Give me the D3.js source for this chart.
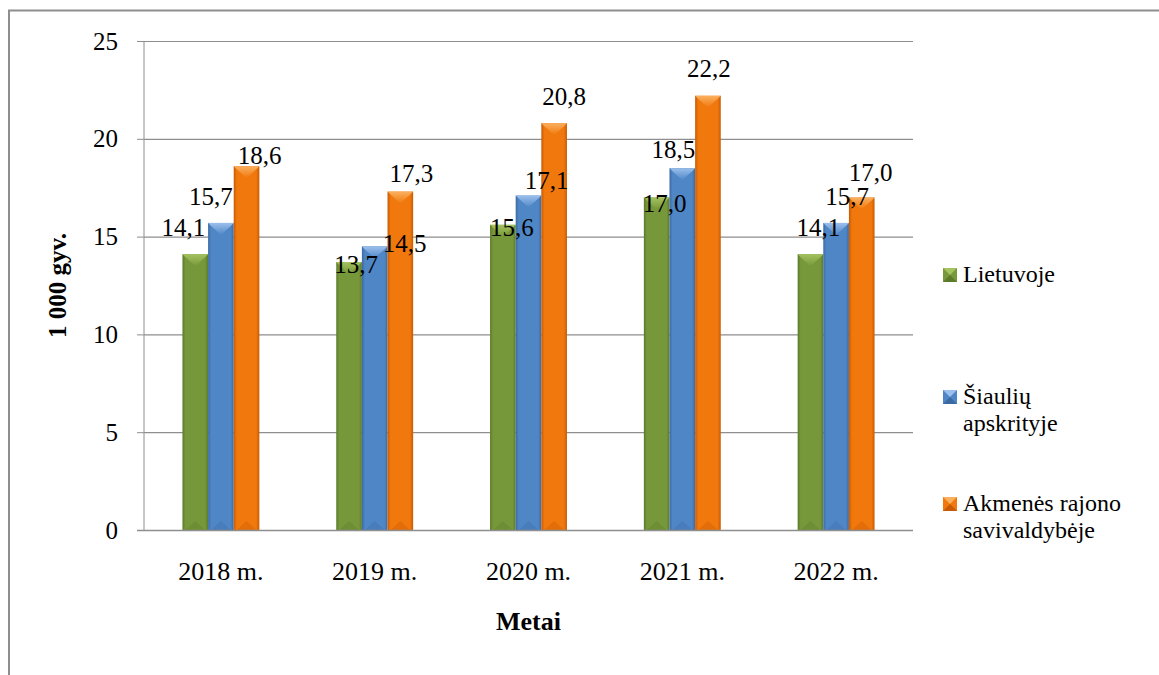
<!DOCTYPE html>
<meta charset="utf-8">
<script src="https://d3js.org/d3.v7.min.js"></script>
<style>
  body { margin: 0; background: #fff; }
  svg text { font-family: "Liberation Serif", "Times New Roman", Times, "DejaVu Serif", serif; fill: #000; }
</style>
<div id="chart"></div>
<script>

// data
var years = ["2018 m.", "2019 m.", "2020 m.", "2021 m.", "2022 m."];
var series = ["Lietuvoje", "Šiaulių apskrityje", "Akmenės rajono savivaldybėje"];
var lietuvoje = [14.1, 13.7, 15.6, 17.0, 14.1];
var siauliai  = [15.7, 14.5, 17.1, 18.5, 15.7];
var akmene    = [18.6, 17.3, 20.8, 22.2, 17.0];
var yTicks = [0, 5, 10, 15, 20, 25];

// label nudges (the labels in the original were moved by hand)
var labelDx = [[-12, 7, 9, 8, 8], [-10, 30, 18, -9, 11], [13, 11, 10, 1, 9]];
var labelDy = [[-18, 11, 11, 15, -18], [-18, 6, -7, -10, -18], [-2, -10, -18, -19, -16]];

var values = [lietuvoje, siauliai, akmene];
var colors = [
  {dark: "#5b7a2a", mid: "#77983a", light: "#a4c25e"},
  {dark: "#3b6aa3", mid: "#4f86c6", light: "#9cc0ec"},
  {dark: "#c85a05", mid: "#f0780c", light: "#fbb060"}
];

var W = 1159, H = 675;
var plotL = 144, plotR = 913, plotT = 41, plotB = 530;

var svg = d3.select("#chart").append("svg")
    .attr("width", W).attr("height", H);

var defs = svg.append("defs");
colors.forEach(function(c, i) {
  var g = defs.append("linearGradient").attr("id", "side" + i)
      .attr("x1", "0").attr("x2", "1").attr("y1", "0").attr("y2", "0");
  g.append("stop").attr("offset", "0").attr("stop-color", c.dark);
  g.append("stop").attr("offset", "0.12").attr("stop-color", c.mid);
  g.append("stop").attr("offset", "0.88").attr("stop-color", c.mid);
  g.append("stop").attr("offset", "1").attr("stop-color", c.dark);
  var t = defs.append("linearGradient").attr("id", "cap" + i)
      .attr("x1", "0").attr("x2", "0").attr("y1", "0").attr("y2", "1");
  t.append("stop").attr("offset", "0").attr("stop-color", c.light);
  t.append("stop").attr("offset", "1").attr("stop-color", c.mid);
});

// outer frame (only left and top visible)
svg.append("path")
    .attr("d", "M9," + H + " L9,10.5 L" + W + ",10.5")
    .attr("fill", "none").attr("stroke", "#8e8e8e").attr("stroke-width", 2);

var x0 = d3.scaleBand().domain(years).range([plotL, plotR])
    .paddingInner(0.5).paddingOuter(0.25);
var x1 = d3.scaleBand().domain(d3.range(series.length)).range([0, x0.bandwidth()]);
var y = d3.scaleLinear().domain([0, 25]).range([plotB, plotT]);

// grid
svg.append("g").selectAll("line").data(yTicks).enter().append("line")
    .attr("x1", plotL).attr("x2", plotR)
    .attr("y1", function(d) { return y(d) + 0.5; })
    .attr("y2", function(d) { return y(d) + 0.5; })
    .attr("stroke", "#8e8e8e").attr("stroke-width", 1.2);

// y axis
var yAxis = svg.append("g").attr("transform", "translate(" + plotL + ",0)")
    .call(d3.axisLeft(y).tickValues(yTicks).tickSize(7).tickPadding(19));
yAxis.attr("font-family", null);
yAxis.select(".domain").attr("stroke", "#8e8e8e").attr("d", "M0," + plotT + "V" + plotB);
yAxis.selectAll(".tick line").attr("stroke", "#8e8e8e");
yAxis.selectAll(".tick text").attr("font-size", "25px").attr("fill", "#000");

// bars
var barLayer = svg.append("g");
var labelLayer = svg.append("g");

years.forEach(function(yr, j) {
  series.forEach(function(s, i) {
    var v = values[i][j];
    var bx = x0(yr) + x1(i), bw = x1.bandwidth(), by = y(v), bh = y(0) - y(v);
    barLayer.append("rect").attr("x", bx).attr("y", by).attr("width", bw).attr("height", bh)
        .attr("fill", "url(#side" + i + ")");
    // bevel cap on top
    barLayer.append("path")
        .attr("d", "M" + bx + "," + by + " L" + (bx + bw) + "," + by +
                   " L" + (bx + bw - 3) + "," + (by + 3) + " L" + (bx + bw / 2) + "," + (by + 12) +
                   " L" + (bx + 3) + "," + (by + 3) + "Z")
        .attr("fill", "url(#cap" + i + ")");
    // soft bottom bevel
    barLayer.append("path")
        .attr("d", "M" + (bx + 3) + "," + y(0) + " L" + (bx + bw / 2) + "," + (y(0) - 9) +
                   " L" + (bx + bw - 3) + "," + y(0) + "Z")
        .attr("fill", colors[i].dark).attr("opacity", 0.35);
    labelLayer.append("text")
        .attr("x", bx + bw / 2 + labelDx[i][j])
        .attr("y", by + labelDy[i][j])
        .attr("text-anchor", "middle")
        .attr("font-size", "25px")
        .text(d3.format(".1f")(v).replace(".", ","));
  });
});

// bottom axis line (over the bars)
svg.append("line").attr("x1", plotL - 7).attr("x2", plotR)
    .attr("y1", plotB + 0.5).attr("y2", plotB + 0.5)
    .attr("stroke", "#8e8e8e").attr("stroke-width", 1.5);

// x labels
svg.append("g").selectAll("text").data(years).enter().append("text")
    .attr("x", function(d) { return x0(d) + x0.bandwidth() / 2; })
    .attr("y", 580)
    .attr("text-anchor", "middle")
    .attr("font-size", "26px")
    .text(function(d) { return d; });

// axis titles
svg.append("text")
    .attr("x", (plotL + plotR) / 2).attr("y", 630)
    .attr("text-anchor", "middle").attr("font-size", "26px").attr("font-weight", "bold")
    .text("Metai");

svg.append("text")
    .attr("transform", "translate(66," + ((plotT + plotB) / 2) + ") rotate(-90)")
    .attr("text-anchor", "middle").attr("font-size", "25px").attr("font-weight", "bold")
    .text("1 000 gyv.");

// legend
var legendLines = [["Lietuvoje"], ["Šiaulių", "apskrityje"], ["Akmenės rajono", "savivaldybėje"]];
var legendY = [282, 404, 511];
var legend = svg.append("g");
legendLines.forEach(function(lines, i) {
  var ly = legendY[i];
  var sq = 14, sx = 943, sy = ly - sq;
  legend.append("rect").attr("x", sx).attr("y", sy).attr("width", sq).attr("height", sq)
      .attr("fill", colors[i].mid);
  legend.append("path")
      .attr("d", "M" + sx + "," + sy + " L" + (sx + sq) + "," + sy + " L" + (sx + sq / 2) + "," + (sy + sq / 2) + "Z")
      .attr("fill", colors[i].light);
  legend.append("path")
      .attr("d", "M" + sx + "," + (sy + sq) + " L" + (sx + sq) + "," + (sy + sq) + " L" + (sx + sq / 2) + "," + (sy + sq / 2) + "Z")
      .attr("fill", colors[i].dark);
  lines.forEach(function(l, k) {
    legend.append("text").attr("x", 963).attr("y", ly + k * 27)
        .attr("font-size", "24px").text(l);
  });
});

</script>
